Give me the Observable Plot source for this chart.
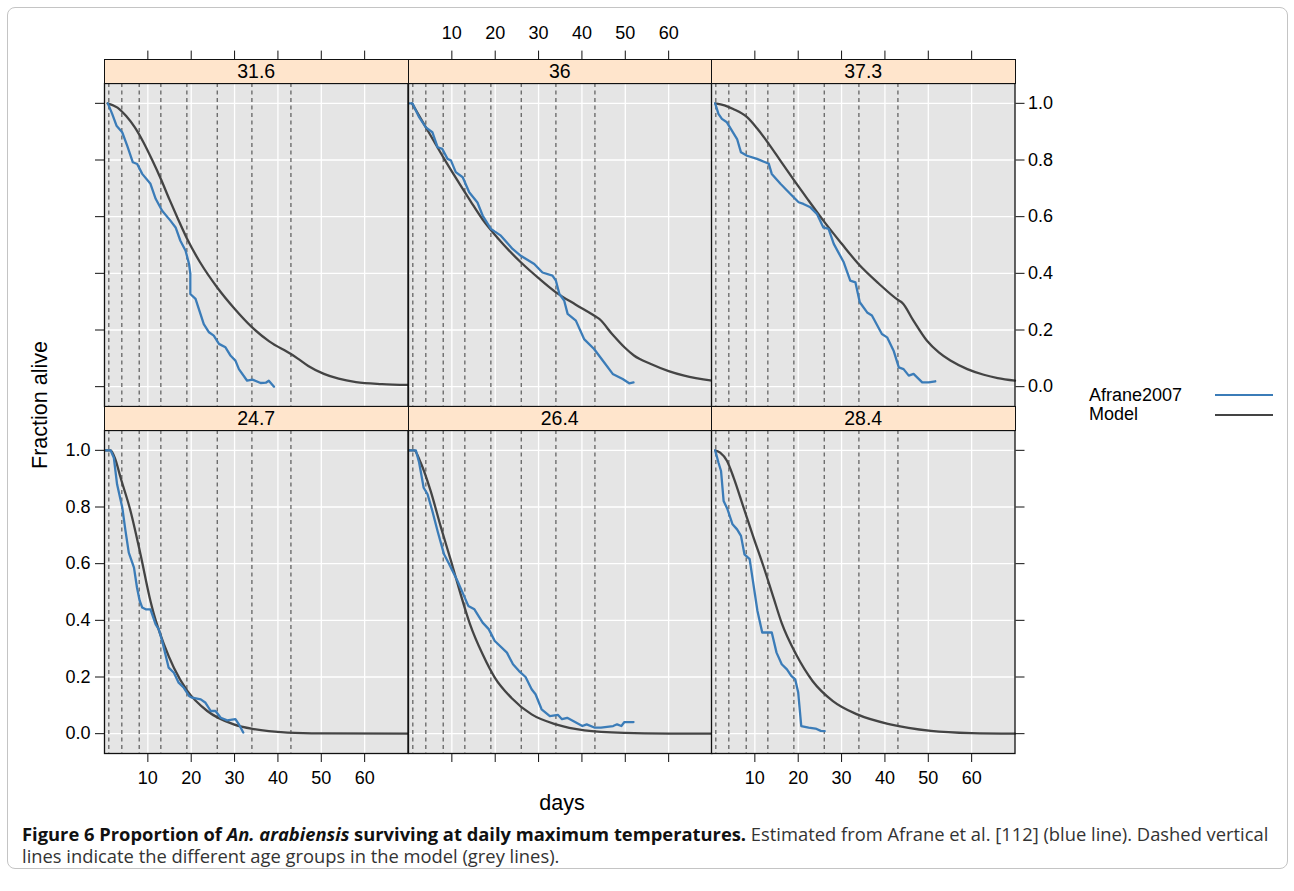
<!DOCTYPE html>
<html><head><meta charset="utf-8">
<script src="https://cdn.jsdelivr.net/npm/d3@7"></script>
<script src="https://cdn.jsdelivr.net/npm/@observablehq/plot@0.6"></script>
<style>
body{margin:0;background:#fff;}
#fig{position:relative;width:1294px;height:891px;overflow:hidden;font-family:"Liberation Sans",Arial,Helvetica,sans-serif;color:#000;}
.box{position:absolute;left:7px;top:7px;width:1281px;height:862px;border:1px solid #c4c4c4;border-radius:8px;box-sizing:border-box;}
.panel{position:absolute;}
.strip{position:absolute;background:#ffe5cc;border:1.3px solid #111;box-sizing:border-box;text-align:center;font-size:19.5px;line-height:22px;}
.ylab{position:absolute;left:40px;top:405px;transform:translate(-50%,-50%) rotate(-90deg);font-size:21.5px;white-space:nowrap;}
.xlab{position:absolute;left:562px;top:803px;transform:translate(-50%,-50%);font-size:21.5px;}
.leg{position:absolute;left:1089px;font-size:18px;line-height:19px;white-space:nowrap;}
.legline{position:absolute;left:1215px;width:58px;height:2.2px;}
.caption{position:absolute;left:22px;top:822.5px;font-family:"Open Sans","Noto Sans",sans-serif;font-size:18.35px;line-height:22.5px;white-space:nowrap;color:#333;}
.caption b{color:#111;}
</style></head>
<body>
<div id="fig">
  <div class="box"></div>
</div>
<script>
// ---- data ----
const panelTemps = ["31.6", "36", "37.3", "24.7", "26.4", "28.4"];
const xTicks = [10, 20, 30, 40, 50, 60];
const yTicks = [0, 0.2, 0.4, 0.6, 0.8, 1.0];
const ageGroupDays = [1, 4, 8, 13, 19, 26, 34, 43];
const seriesNames = ["Afrane2007", "Model"];

// Afrane2007 observed survival [day, fraction alive]
const afrane_31_6 = [[0.77,1],[1.77,0.963],[2.77,0.921],[4.08,0.898],[5.23,0.851],[6.54,0.792],[7.54,0.786],[8.7,0.751],[10.6,0.716],[11.8,0.663],[13.3,0.621],[15.2,0.586],[16.4,0.562],[17.5,0.515],[18.7,0.48],[19.5,0.433],[19.8,0.398],[19.8,0.327],[21,0.31],[22.9,0.221],[24.1,0.192],[25.2,0.18],[26.4,0.151],[27.9,0.139],[29.1,0.109],[30.2,0.092],[31,0.062],[32.9,0.021],[34.1,0.025],[36,0.013],[37.2,0.014],[37.9,0.021],[39.1,0.0]];
const afrane_36 = [[0.15,1],[0.9,1],[2.45,0.951],[4,0.915],[5.5,0.898],[6.7,0.845],[7.8,0.839],[9,0.804],[9.8,0.798],[10.9,0.757],[12.5,0.739],[14,0.686],[15.9,0.65],[17.1,0.604],[19,0.557],[21.3,0.533],[24,0.486],[25.9,0.462],[29,0.433],[30.9,0.403],[33.2,0.392],[34,0.374],[34.8,0.327],[35.9,0.304],[36.7,0.257],[38.6,0.233],[40.5,0.168],[42.8,0.133],[45.1,0.086],[47.1,0.045],[49.4,0.027],[50.9,0.012],[51.9,0.015]];
const afrane_37_3 = [[0.85,1],[1.6,0.963],[2.4,0.945],[3.55,0.933],[4.7,0.904],[5.9,0.874],[6.8,0.827],[8.2,0.815],[10.5,0.804],[12.4,0.792],[13.2,0.787],[13.9,0.751],[15.9,0.716],[18.2,0.68],[20.1,0.651],[21.2,0.645],[22.8,0.633],[24.3,0.61],[25.8,0.562],[27,0.557],[28.2,0.504],[30.5,0.439],[32,0.374],[33.2,0.368],[34.2,0.298],[35.9,0.262],[37,0.251],[39.3,0.186],[40.5,0.174],[42,0.127],[43.2,0.068],[44.3,0.062],[45.5,0.039],[46.6,0.045],[48.6,0.015],[50.1,0.015],[51.6,0.019]];
const afrane_24_7 = [[0.2,1],[1.4,1],[2.15,0.974],[2.9,0.88],[4.1,0.798],[4.85,0.715],[5.6,0.639],[6.8,0.586],[7.5,0.515],[8.1,0.47],[8.7,0.445],[9.5,0.439],[10.6,0.439],[11.8,0.386],[12.5,0.369],[13.3,0.327],[14.8,0.233],[16,0.215],[17.1,0.18],[18.3,0.162],[19.5,0.133],[20.2,0.127],[22.2,0.121],[23.3,0.109],[24.5,0.08],[25.6,0.08],[26.8,0.056],[28.3,0.047],[30.2,0.051],[31,0.033],[32,0.004]];
const afrane_26_4 = [[0.15,1],[1.7,1],[2.45,0.957],[3.5,0.868],[4.4,0.845],[5.5,0.786],[6.7,0.715],[8.2,0.633],[9.4,0.598],[11.3,0.539],[12.3,0.504],[13.8,0.451],[15.2,0.439],[17.1,0.392],[18.5,0.369],[19.9,0.327],[22.7,0.286],[24.1,0.245],[25.5,0.221],[27,0.2],[28.4,0.157],[29.3,0.139],[30.7,0.086],[32.6,0.062],[34.5,0.066],[35.4,0.051],[36.6,0.056],[38.3,0.042],[40.1,0.027],[41.1,0.033],[43,0.021],[44.4,0.021],[47.2,0.027],[48.1,0.033],[49.1,0.027],[49.8,0.041],[51.9,0.041]];
const afrane_28_4 = [[0.85,1],[1.6,0.957],[2.2,0.927],[2.8,0.821],[3.7,0.792],[4.85,0.739],[5.9,0.721],[6.8,0.698],[7.6,0.633],[8.8,0.616],[9.55,0.539],[10.6,0.433],[11.7,0.357],[13.9,0.357],[15,0.286],[16.2,0.245],[17.4,0.227],[18.4,0.204],[19.3,0.192],[20,0.145],[20.7,0.027],[22.4,0.021],[24,0.018],[25.2,0.01],[26.1,0.009]];

// Model survival [day, fraction alive]
const model_31_6 = [[0.7,1],[3,0.985],[5,0.955],[7,0.915],[9,0.862],[11,0.8],[13,0.733],[15,0.66],[17,0.59],[19.1,0.52],[22,0.44],[26,0.35],[30,0.275],[34,0.21],[38,0.16],[43,0.115],[44.5,0.1],[47,0.073],[50.6,0.045],[54,0.028],[58,0.016],[64,0.009],[70,0.006]];
const model_36 = [[0.8,1],[4.4,0.905],[8.2,0.805],[11,0.735],[14.3,0.655],[17.1,0.59],[19,0.553],[22,0.5],[25.9,0.439],[30,0.383],[34,0.333],[38.5,0.29],[42.8,0.251],[44,0.239],[47,0.185],[49.8,0.139],[52,0.11],[55.9,0.08],[60,0.055],[63.6,0.039],[70,0.021]];
const model_37_3 = [[0.85,1],[3,0.993],[5,0.98],[8.2,0.951],[10.5,0.912],[13.2,0.857],[16,0.795],[19.1,0.727],[22.4,0.657],[25.8,0.586],[30,0.505],[33.9,0.433],[38.5,0.365],[43.2,0.304],[44,0.296],[46.5,0.235],[49.7,0.162],[52.5,0.12],[55.1,0.092],[59,0.062],[62.8,0.042],[66,0.03],[70,0.021]];
const model_24_7 = [[0.2,1],[1.4,1],[2.5,0.968],[3.7,0.904],[6,0.786],[8.3,0.633],[10.6,0.468],[11.4,0.421],[13.7,0.316],[16,0.233],[19.1,0.151],[23.7,0.08],[29.8,0.033],[34.5,0.016],[42.2,0.004],[50,0.001],[70,0]];
const model_26_4 = [[0.15,1],[1.3,1],[2.8,0.957],[5.1,0.857],[7.5,0.727],[9.8,0.61],[11.8,0.504],[14.2,0.386],[17.1,0.28],[19.9,0.198],[23.7,0.127],[28.4,0.068],[34,0.033],[40.6,0.012],[50,0.003],[60,0.0005],[70,0]];
const model_28_4 = [[0.85,1],[2,0.992],[3.55,0.963],[5.1,0.904],[7.4,0.798],[9.7,0.692],[12,0.59],[14.3,0.48],[16.2,0.39],[19.5,0.28],[23.3,0.186],[28,0.115],[33.6,0.068],[41.2,0.033],[50.6,0.01],[60,0.002],[70,0]];

const afraneSeries = [afrane_31_6, afrane_36, afrane_37_3, afrane_24_7, afrane_26_4, afrane_28_4];
const modelSeries = [model_31_6, model_36, model_37_3, model_24_7, model_26_4, model_28_4];

// ---- styles / layout ----
const obsColor = "#3b7cb8";
const modelColor = "#444444";
const panelBg = "#e5e5e5";
const colX = [104, 407.5, 711];
const rowY = [83, 430];
const W = 303.5, H = 323, M = 70, STRIP = 24.4;
const fmt1 = d3.format(".1f");
const blank = () => "";
const fig = document.getElementById("fig");

panelTemps.forEach((temp, i) => {
  const row = Math.floor(i / 3), col = i % 3;
  const marks = [
    Plot.frame({fill: panelBg, stroke: null}),
    Plot.gridX(xTicks, {stroke: "#fff", strokeOpacity: 1, strokeWidth: 1.3}),
    Plot.gridY(yTicks, {stroke: "#fff", strokeOpacity: 1, strokeWidth: 1.3}),
    Plot.ruleX(ageGroupDays, {stroke: "#4d4d4d", strokeWidth: 1.1, strokeDasharray: "4,3.5"}),
    Plot.line(modelSeries[i], {x: d => d[0], y: d => d[1], stroke: modelColor, strokeWidth: 2.3, curve: "monotone-x"}),
    Plot.line(afraneSeries[i], {x: d => d[0], y: d => d[1], stroke: obsColor, strokeWidth: 2.3}),
    Plot.frame({stroke: "#111", strokeWidth: 1.3})
  ];
  const ax = {tickSize: 9, fontSize: 18, label: null, stroke: "#111"};
  if (row === 0) marks.push(Plot.axisX(xTicks, {...ax, anchor: "top", dy: -STRIP, tickPadding: 11, tickFormat: col === 1 ? d => d : blank}));
  else marks.push(Plot.axisX(xTicks, {...ax, anchor: "bottom", tickPadding: 9, tickFormat: col !== 1 ? d => d : blank}));
  let yAxisNone = true;
  if (col === 0) { yAxisNone = false; marks.push(Plot.axisY(yTicks, {...ax, anchor: "left", tickPadding: 5, tickFormat: row === 1 ? fmt1 : blank})); }
  if (col === 2) { yAxisNone = false; marks.push(Plot.axisY(yTicks, {...ax, anchor: "right", tickPadding: 4, tickFormat: row === 0 ? fmt1 : blank})); }
  const svg = Plot.plot({
    width: W + 2 * M, height: H + 2 * M,
    marginLeft: M, marginRight: M, marginTop: M, marginBottom: M,
    x: {domain: [0, 70]},
    y: {domain: [-0.07, 1.07], ...(yAxisNone ? {axis: null} : {})},
    style: {background: "transparent", overflow: "visible", fontSize: "18px", fontFamily: "'Liberation Sans', Arial, Helvetica, sans-serif", color: "#000"},
    marks
  });
  const wrap = document.createElement("div");
  wrap.className = "panel";
  wrap.style.left = (colX[col] - M) + "px";
  wrap.style.top = (rowY[row] - M) + "px";
  wrap.appendChild(svg);
  fig.appendChild(wrap);
});

// strips (drawn over the panels' top margins)
panelTemps.forEach((temp, i) => {
  const row = Math.floor(i / 3), col = i % 3;
  const s = document.createElement("div");
  s.className = "strip";
  s.style.left = colX[col] + "px";
  s.style.top = (rowY[row] - STRIP) + "px";
  s.style.width = (W + 1) + "px";
  s.style.height = (STRIP + 0.6) + "px";
  s.textContent = temp;
  fig.appendChild(s);
});

// axis titles
const yl = document.createElement("div"); yl.className = "ylab"; yl.textContent = "Fraction alive"; fig.appendChild(yl);
const xl = document.createElement("div"); xl.className = "xlab"; xl.textContent = "days"; fig.appendChild(xl);

// legend
[obsColor, modelColor].forEach((c, j) => {
  const t = document.createElement("div");
  t.className = "leg"; t.style.top = (386 + j * 19.4) + "px"; t.textContent = seriesNames[j];
  fig.appendChild(t);
  const l = document.createElement("div");
  l.className = "legline"; l.style.top = (394.3 + j * 19.4) + "px"; l.style.background = c;
  fig.appendChild(l);
});

// caption
const cap = document.createElement("div");
cap.className = "caption";
cap.innerHTML = '<b>Figure 6 Proportion of <i>An. arabiensis</i> surviving at daily maximum temperatures.</b> Estimated from Afrane et al. [112] (blue line). Dashed vertical<br>lines indicate the different age groups in the model (grey lines).';
fig.appendChild(cap);
</script>
</body></html>
